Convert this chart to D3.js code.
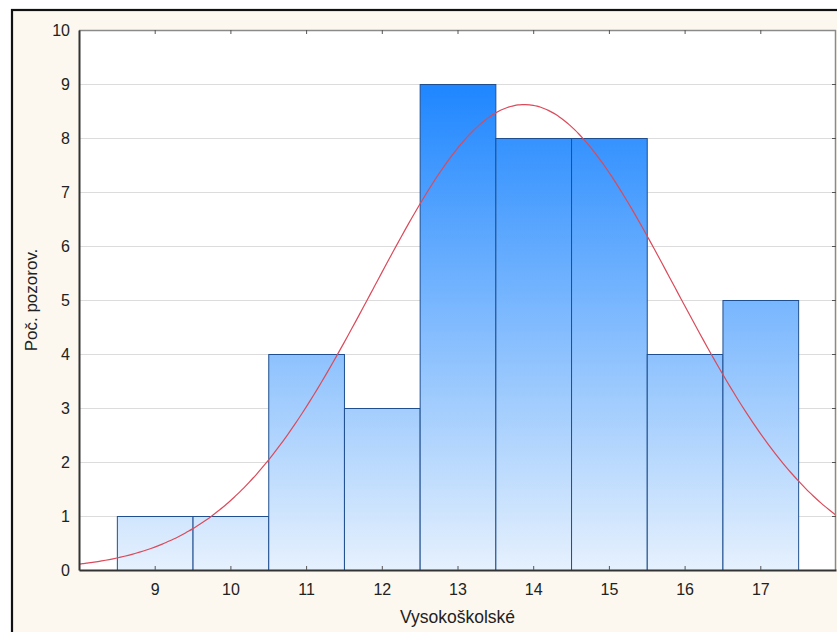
<!DOCTYPE html>
<html><head><meta charset="utf-8">
<script src="https://cdn.jsdelivr.net/npm/d3@7"></script>
<style>html,body{margin:0;padding:0;background:#fff;}svg{display:block;}</style>
</head><body>
<script>
const categories = [9, 10, 11, 12, 13, 14, 15, 16, 17];
const counts = [1, 1, 4, 3, 9, 8, 8, 4, 5];
const yTicks = [0,1,2,3,4,5,6,7,8,9,10];
const xTicks = [9,10,11,12,13,14,15,16,17];
const fitMean = 13.884, fitSd = 1.99, fitN = 43, binWidth = 1;
const xTitle = "Vysokoškolské", yTitle = "Poč. pozorov.";

const W = 837, H = 632;
const svg = d3.select("body").append("svg").attr("width", W).attr("height", H);
svg.append("rect").attr("x",0).attr("y",0).attr("width",W).attr("height",H).attr("fill","#fff");
svg.append("rect").attr("x",12).attr("y",10).attr("width",W+20).attr("height",H+20)
  .attr("fill","#fcf8ef").attr("stroke","#111").attr("stroke-width",2.2);

const L = 79, R = 836, T = 30, B = 570;
const x = d3.scaleLinear().domain([8,18]).range([L,R]);
const y = d3.scaleLinear().domain([0,10]).range([B,T]);

svg.append("rect").attr("x",L).attr("y",T).attr("width",R-L).attr("height",B-T).attr("fill","#fff");

const defs = svg.append("defs");
const grad = defs.append("linearGradient").attr("id","g").attr("gradientUnits","userSpaceOnUse")
  .attr("x1",0).attr("x2",0).attr("y1",y(9)).attr("y2",y(0));
grad.append("stop").attr("offset","0%").attr("stop-color","#1e86ff");
grad.append("stop").attr("offset","100%").attr("stop-color","#e6f1fd");
defs.append("clipPath").attr("id","clip").append("rect").attr("x",L).attr("y",T).attr("width",R-L).attr("height",B-T);

// gridlines
svg.append("g").selectAll("line").data(yTicks.filter(d=>d>0&&d<10)).join("line")
  .attr("x1",L).attr("x2",R).attr("y1",d=>y(d)+0.5).attr("y2",d=>y(d)+0.5)
  .attr("stroke","#dcdcdc").attr("stroke-width",1);

// bars
svg.append("g").selectAll("rect").data(categories).join("rect")
  .attr("x",(d)=>x(d-binWidth/2)+0.5)
  .attr("y",(d,i)=>y(counts[i])+0.5)
  .attr("width",d=>x(d+binWidth/2)-x(d-binWidth/2))
  .attr("height",(d,i)=>y(0)-y(counts[i]))
  .attr("fill","url(#g)").attr("stroke","#1f4f8f").attr("stroke-width",1);

// fitted normal curve
const pts = d3.range(8, 18.001, 0.05).map(v => [v, fitN*binWidth/(fitSd*Math.sqrt(2*Math.PI))*Math.exp(-0.5*((v-fitMean)/fitSd)**2)]);
svg.append("path").datum(pts).attr("clip-path","url(#clip)")
  .attr("d", d3.line().x(d=>x(d[0])).y(d=>y(d[1])).curve(d3.curveBasis))
  .attr("fill","none").attr("stroke","#db4a5a").attr("stroke-width",1.2);

// frame lines
svg.append("line").attr("x1",L).attr("x2",R).attr("y1",T+0.5).attr("y2",T+0.5).attr("stroke","#8a8a8a").attr("stroke-width",1.5);
svg.append("line").attr("x1",R-0.5).attr("x2",R-0.5).attr("y1",T).attr("y2",B).attr("stroke","#8a8a8a").attr("stroke-width",1.5);

// axes
const xAxis = d3.axisBottom(x).tickValues(xTicks).tickSizeInner(-4).tickSizeOuter(0).tickPadding(14);
const gx = svg.append("g").attr("transform",`translate(0,${B})`).call(xAxis);
gx.select(".domain").attr("stroke","#333").attr("stroke-width",2);
gx.selectAll(".tick line").attr("stroke","#555");
gx.selectAll("text").attr("font-family","Liberation Sans, Arial, sans-serif").attr("font-size",16).attr("fill","#222");

const xTop = d3.axisTop(x).tickValues(xTicks).tickSizeInner(-4).tickSizeOuter(0).tickFormat("");
const gxt = svg.append("g").attr("transform",`translate(0,${T})`).call(xTop);
gxt.select(".domain").remove();
gxt.selectAll(".tick line").attr("stroke","#555");

const yAxis = d3.axisLeft(y).tickValues(yTicks).tickSizeInner(0).tickSizeOuter(0).tickPadding(9);
const gy = svg.append("g").attr("transform",`translate(${L},0)`).call(yAxis);
gy.select(".domain").attr("stroke","#333").attr("stroke-width",2);
gy.selectAll("text").attr("font-family","Liberation Sans, Arial, sans-serif").attr("font-size",16).attr("fill","#222");

const yRight = d3.axisRight(y).tickValues(yTicks.filter(d=>d>0&&d<10)).tickSizeInner(-4).tickSizeOuter(0).tickFormat("");
const gyr = svg.append("g").attr("transform",`translate(${R},0)`).call(yRight);
gyr.select(".domain").remove();
gyr.selectAll(".tick line").attr("stroke","#555");

svg.append("text").attr("x",(L+R)/2).attr("y",623).attr("text-anchor","middle")
  .attr("font-family","Liberation Sans, Arial, sans-serif").attr("font-size",17.5).attr("fill","#222").text(xTitle);
svg.append("text").attr("transform",`translate(37,${(T+B)/2}) rotate(-90)`).attr("text-anchor","middle")
  .attr("font-family","Liberation Sans, Arial, sans-serif").attr("font-size",17).attr("fill","#222").text(yTitle);
</script>
</body></html>
